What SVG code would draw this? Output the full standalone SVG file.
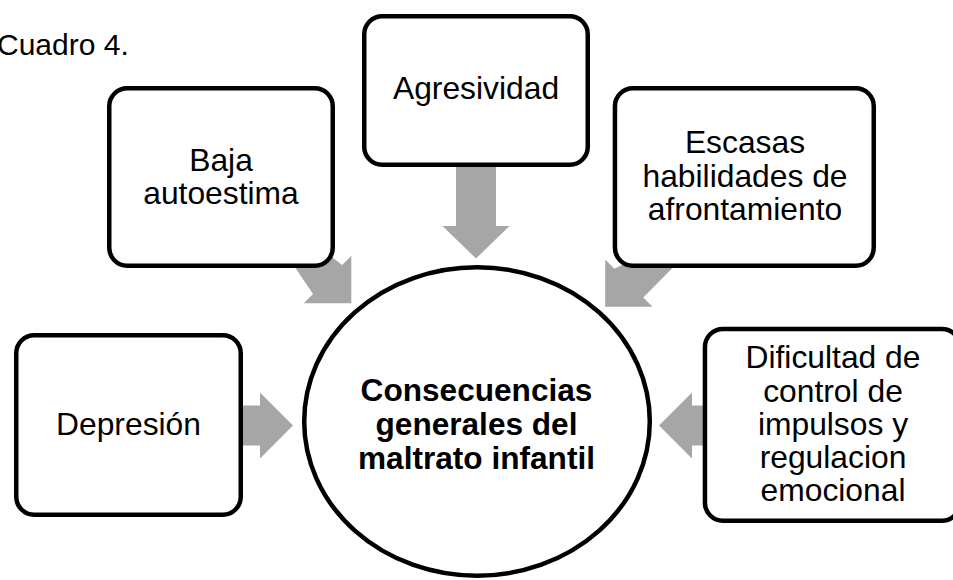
<svg xmlns="http://www.w3.org/2000/svg" width="953" height="580" viewBox="0 0 953 580">
<style>
  .box { fill: #ffffff; stroke: #000000; stroke-width: 4.5; }
  .arrow { fill: #A6A6A6; stroke: none; }
  text { font-family: "Liberation Sans", Arial, sans-serif; fill: #000000; text-anchor: middle; }
  .lbl { font-size: 31.8px; }
  .ctr { font-size: 31.6px; font-weight: bold; }
</style>
<rect width="953" height="580" fill="#ffffff"/>
<text x="-3" y="55" style="font-size:30px;text-anchor:start">Cuadro 4.</text>
<g id="connectors">
  <polygon class="arrow" points="456,150 496,150 496,226 509.5,226 476,258.5 442.5,226 456,226"/>
  <polygon class="arrow" points="282.3,248.3 299.2,231.4 342.1,265.0 351.3,255.8 351.3,303.3 303.8,303.3 313.0,294.1"/>
  <polygon class="arrow" points="676.4,264.1 659.1,246.8 614.4,268.7 605.2,259.5 605.2,306.8 652.5,306.8 643.3,297.6"/>
  <polygon class="arrow" points="236,405.5 260,405.5 260,392.5 293,425.5 260,458.5 260,445.5 236,445.5"/>
  <polygon class="arrow" points="712,405.5 692,405.5 692,392.5 659,425.5 692,458.5 692,445.5 712,445.5"/>
</g>
<g id="node-baja">
  <rect class="box" x="109.25" y="88.25" width="223.5" height="177.5" rx="18"/>
  <text class="lbl" x="221" y="170.5">Baja</text>
  <text class="lbl" x="221" y="203.5">autoestima</text>
</g>
<g id="node-agresividad">
  <rect class="box" x="364.25" y="16.25" width="223.5" height="148.5" rx="18"/>
  <text class="lbl" x="476" y="99">Agresividad</text>
</g>
<g id="node-escasas">
  <rect class="box" x="614.95" y="88.25" width="258.8" height="177.5" rx="18"/>
  <text class="lbl" x="745" y="153">Escasas</text>
  <text class="lbl" x="745" y="187">habilidades de</text>
  <text class="lbl" x="745" y="220">afrontamiento</text>
</g>
<g id="node-depresion">
  <rect class="box" x="16.25" y="335.25" width="224.5" height="179.5" rx="18"/>
  <text class="lbl" x="128.5" y="435">Depresión</text>
</g>
<g id="node-dificultad">
  <rect class="box" x="704.95" y="328.95" width="255" height="191.8" rx="18"/>
  <text class="lbl" x="833" y="368">Dificultad de</text>
  <text class="lbl" x="833" y="402">control de</text>
  <text class="lbl" x="833" y="435">impulsos y</text>
  <text class="lbl" x="833" y="468">regulacion</text>
  <text class="lbl" x="833" y="501">emocional</text>
</g>
<g id="node-centro">
  <ellipse class="box" cx="477" cy="421.5" rx="172.8" ry="154.3"/>
  <text class="ctr" x="476.5" y="401">Consecuencias</text>
  <text class="ctr" x="476.5" y="435">generales del</text>
  <text class="ctr" x="476.5" y="469">maltrato infantil</text>
</g>
</svg>
